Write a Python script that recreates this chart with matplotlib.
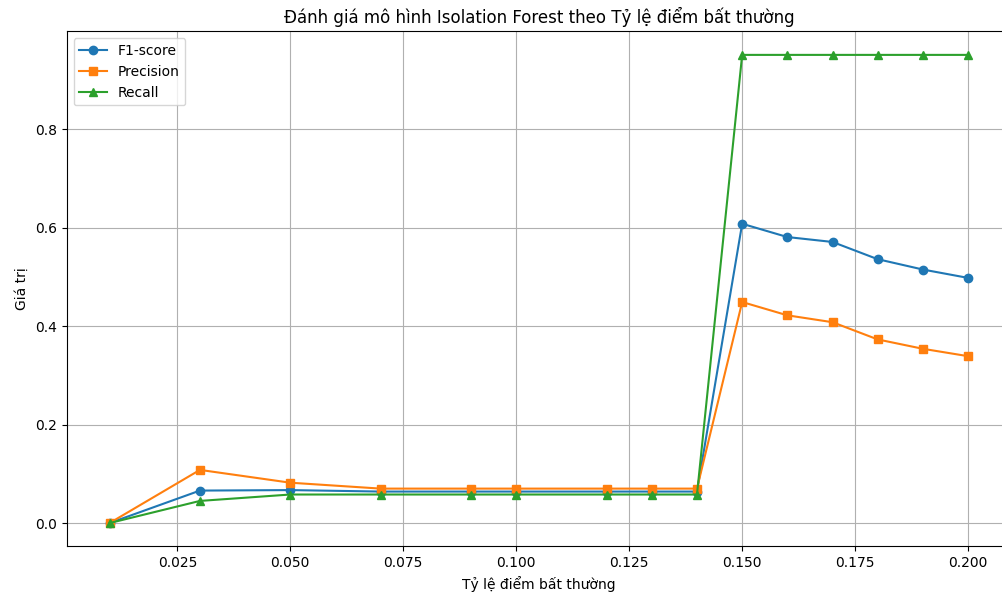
import matplotlib
matplotlib.use("Agg")
import matplotlib.pyplot as plt

contamination = [0.01, 0.03, 0.05, 0.07, 0.09, 0.10, 0.12, 0.13, 0.14, 0.15, 0.16, 0.17, 0.18, 0.19, 0.20]
f1_score = [0.0, 0.066, 0.067, 0.064, 0.064, 0.064, 0.064, 0.064, 0.064, 0.608, 0.581, 0.571, 0.536, 0.515, 0.498]
precision = [0.0, 0.108, 0.082, 0.070, 0.070, 0.070, 0.070, 0.070, 0.070, 0.449, 0.422, 0.408, 0.373, 0.354, 0.339]
recall = [0.0, 0.045, 0.058, 0.058, 0.058, 0.058, 0.058, 0.058, 0.058, 0.951, 0.951, 0.951, 0.951, 0.951, 0.951]

fig, ax = plt.subplots(figsize=(10.02, 5.94), dpi=100)
ax.plot(contamination, f1_score, marker='o', label='F1-score')
ax.plot(contamination, precision, marker='s', label='Precision')
ax.plot(contamination, recall, marker='^', label='Recall')
ax.set_title('Đánh giá mô hình Isolation Forest theo Tỷ lệ điểm bất thường')
ax.set_xlabel('Tỷ lệ điểm bất thường')
ax.set_ylabel('Giá trị')
ax.legend(loc='upper left')
ax.grid(True)
fig.subplots_adjust(left=0.0665, right=1.009, top=0.947, bottom=0.080)
fig.savefig('out.png', dpi=100)
